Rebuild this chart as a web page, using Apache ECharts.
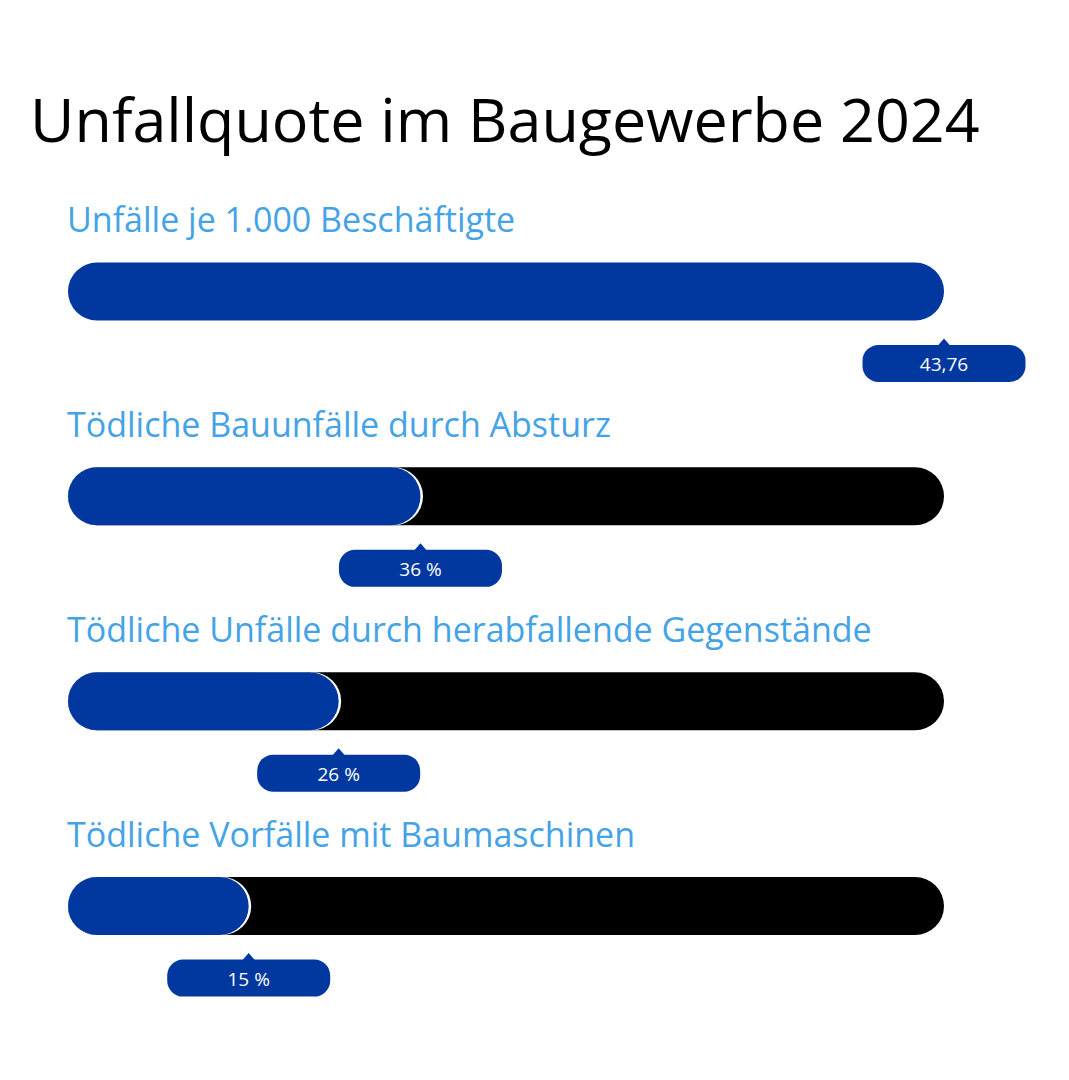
<!DOCTYPE html>
<html><head><meta charset="utf-8">
<script src="https://cdn.jsdelivr.net/npm/echarts@6/dist/echarts.min.js"></script>
<style>html,body{margin:0;padding:0;background:#fff}#c{width:1069px;height:1080px}</style>
</head><body><div id="c"></div>
<script>
const titleText = 'Unfallquote im Baugewerbe 2024';
const categories = [
  'Unfälle je 1.000 Beschäftigte',
  'Tödliche Bauunfälle durch Absturz',
  'Tödliche Unfälle durch herabfallende Gegenstände',
  'Tödliche Vorfälle mit Baumaschinen'
];
const values = [43.76, 36, 26, 15];
const scaleMax = [43.76, 100, 100, 100];
const units = ['', ' %', ' %', ' %'];

const BLUE = '#0038a0', TRACK = '#000000', CAT = '#44a3e6';
const FONT = '"Open Sans", Lato, sans-serif';
const BAR_H = 58, CAP = 58;

const seriesData = values.map((v, i) => [v / scaleMax[i] * 100, i]);

function fmt(i) { return String(values[i]).replace('.', ',') + units[i]; }

function renderItem(params, api) {
  const pct = api.value(0), idx = api.value(1);
  const i = params.dataIndex;
  const p0 = api.coord([0, idx]);
  const p100 = api.coord([100, idx]);
  const pv = api.coord([pct, idx]);
  const cy = p0[1];
  const x0 = p0[0] - CAP;
  const top = cy - BAR_H / 2;
  const ch = [];
  ch.push({ type: 'text', style: { x: x0 - 1, y: cy - 72, text: categories[i], fill: CAT,
    font: '34px ' + FONT, align: 'left', verticalAlign: 'middle' } });
  if (pct < 100) {
    ch.push({ type: 'rect', shape: { x: x0, y: top, width: p100[0] - x0, height: BAR_H, r: BAR_H / 2 },
      style: { fill: TRACK } });
    ch.push({ type: 'rect', shape: { x: x0, y: top, width: pv[0] - x0 + 2.5, height: BAR_H, r: BAR_H / 2 },
      style: { fill: '#ffffff' } });
  }
  ch.push({ type: 'rect', shape: { x: x0, y: top, width: pv[0] - x0, height: BAR_H, r: BAR_H / 2 },
    style: { fill: BLUE } });
  const bx = pv[0], by = cy + 72;
  ch.push({ type: 'polygon', shape: { points: [[bx - 7, by - 17], [bx, by - 25], [bx + 7, by - 17]] },
    style: { fill: BLUE } });
  ch.push({ type: 'rect', shape: { x: bx - 81.5, y: by - 18.5, width: 163, height: 37, r: 16 },
    style: { fill: BLUE } });
  ch.push({ type: 'text', style: { x: bx, y: by + 1, text: fmt(i), fill: '#ffffff',
    font: '19px ' + FONT, align: 'center', verticalAlign: 'middle' } });
  return { type: 'group', children: ch };
}

const chart = echarts.init(document.getElementById('c'), null, { renderer: 'svg' });
chart.setOption({
  backgroundColor: '#ffffff',
  animation: false,
  title: {
    text: titleText, left: 25, top: 83,
    textStyle: { fontFamily: FONT, fontSize: 61, fontWeight: 'normal', color: '#000000' }
  },
  grid: { left: 126, right: 125, top: 189, bottom: 71.5, containLabel: false },
  xAxis: { type: 'value', min: 0, max: 100, show: false },
  yAxis: { type: 'category', data: categories, inverse: true, show: false },
  series: [{
    type: 'custom', renderItem: renderItem, clip: false,
    encode: { x: 0, y: 1 }, data: seriesData
  }]
});
</script></body></html>
